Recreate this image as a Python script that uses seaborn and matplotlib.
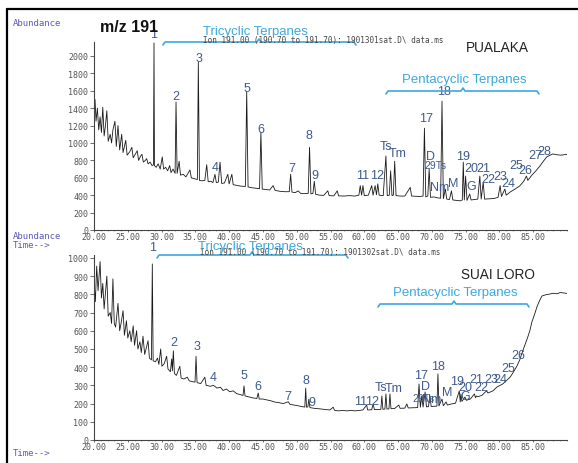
import numpy as np
import pandas as pd
import seaborn as sns
import matplotlib.pyplot as plt
from matplotlib.lines import Line2D

# ---- data (time in min, abundance) ----
top_time = [20.0, 20.15, 20.3, 20.5, 20.7, 20.9, 21.1, 21.3, 21.5, 21.7, 21.9, 22.1, 22.4, 22.6, 22.8,
            23.1, 23.3, 23.55, 23.8, 24.1, 24.3, 24.7, 24.9, 25.3, 25.6, 25.8, 26.1, 26.4, 26.6, 26.9,
            27.1, 27.3, 27.6, 27.8, 28.0, 28.3, 28.6, 28.8, 28.88, 28.95, 29.2, 29.5, 29.8, 30.1, 30.3,
            30.6, 30.9, 31.2, 31.4, 31.7, 32.0, 32.14, 32.3, 32.6, 32.8, 33.2, 33.6, 34.2, 34.4, 34.8,
            35.3, 35.44, 35.6, 36.0, 36.4, 36.68, 36.9, 37.3, 37.6, 37.9, 38.1, 38.4, 38.65, 38.9, 39.3,
            39.8, 40.0, 40.4, 40.6, 41.0, 41.6, 42.4, 42.6, 42.8, 43.4, 44.0, 44.5, 44.7, 44.9, 45.5,
            46.0, 46.5, 46.8, 47.5, 48.2, 48.9, 49.1, 49.3, 49.8, 50.2, 50.6, 51.3, 51.7, 51.9, 52.1,
            52.4, 52.6, 52.8, 53.4, 54.0, 54.6, 54.8, 55.5, 56.0, 56.2, 57.0, 57.8, 58.6, 59.2, 59.4,
            59.6, 59.8, 60.0, 60.6, 61.1, 61.3, 61.6, 61.8, 62.0, 62.2, 62.8, 63.2, 63.4, 63.7, 63.9,
            64.1, 64.3, 64.5, 64.7, 65.3, 66.0, 66.8, 67.0, 67.6, 68.2, 68.7, 68.9, 69.1, 69.4, 69.6,
            69.8, 70.3, 70.8, 71.3, 71.5, 71.7, 72.0, 72.2, 72.6, 72.9, 73.1, 73.7, 74.2, 74.5, 74.65,
            74.8, 75.0, 75.2, 75.6, 75.8, 76.3, 76.8, 77.1, 77.3, 77.6, 77.8, 78.5, 79.2, 79.8, 80.1,
            80.3, 80.8, 81.0, 81.6, 82.3, 83.0, 83.6, 84.0, 84.2, 84.8, 85.4, 86.0, 86.5, 87.0, 87.5,
            87.9, 88.5, 89.0, 89.4, 89.8, 90.0]
top_abund = [1180, 1500, 1250, 1400, 1150, 1300, 1120, 1410, 1080, 1200, 1370, 1020, 1100, 1000, 1150,
             1250, 960, 1200, 920, 1100, 890, 1030, 860, 900, 950, 830, 870, 910, 800, 850,
             870, 780, 800, 820, 760, 780, 740, 750, 2150, 740, 720, 760, 700, 840, 700,
             720, 680, 740, 660, 700, 650, 1470, 650, 790, 630, 640, 610, 690, 600, 590,
             580, 1930, 570, 565, 570, 750, 555, 560, 545, 640, 545, 550, 780, 535, 540,
             640, 530, 640, 520, 515, 505, 500, 1590, 495, 485, 480, 475, 1125, 470, 465,
             460, 510, 455, 445, 440, 440, 640, 435, 430, 450, 420, 418, 420, 950, 415,
             420, 560, 410, 400, 398, 450, 395, 392, 450, 392, 390, 395, 390, 400, 510,
             400, 510, 395, 400, 510, 400, 510, 405, 530, 400, 395, 850, 395, 400, 680,
             395, 400, 790, 395, 390, 390, 490, 390, 388, 385, 390, 1170, 380, 390, 700,
             375, 380, 370, 365, 1480, 360, 470, 355, 350, 450, 345, 340, 335, 345, 780,
             345, 620, 340, 414, 345, 350, 355, 620, 355, 550, 355, 358, 362, 375, 510,
             385, 470, 400, 437, 470, 506, 560, 620, 570, 630, 680, 736, 790, 839, 860,
             874, 865, 860, 862, 870, 865]

bottom_time = [20.0, 20.2, 20.4, 20.6, 20.9, 21.1, 21.3, 21.5, 21.9, 22.1, 22.4, 22.6, 22.8, 23.0, 23.2,
               23.55, 23.8, 24.0, 24.3, 24.5, 24.8, 25.0, 25.3, 25.5, 25.8, 26.0, 26.3, 26.5, 26.8, 27.0,
               27.25, 27.5, 28.0, 28.2, 28.5, 28.63, 28.75, 29.1, 29.4, 29.6, 29.87, 30.05, 30.4, 30.75,
               30.95, 31.3, 31.5, 31.6, 31.74, 31.9, 32.2, 32.7, 32.9, 33.3, 33.8, 34.1, 34.6, 34.95,
               35.1, 35.25, 35.8, 36.4, 36.6, 37.2, 37.7, 38.2, 38.7, 39.1, 39.6, 40.1, 40.6, 41.1,
               41.6, 42.05, 42.2, 42.35, 42.8, 43.4, 44.1, 44.3, 44.45, 45.0, 45.6, 46.2, 46.8, 47.4,
               48.0, 48.75, 49.0, 49.6, 50.2, 50.8, 51.2, 51.33, 51.45, 51.65, 51.8, 51.95, 52.6, 53.2,
               53.7, 54.3, 54.9, 55.4, 55.6, 56.1, 56.8, 57.5, 58.0, 58.6, 59.2, 59.8, 60.35, 60.5,
               61.1, 61.3, 61.5, 62.0, 62.45, 62.6, 62.75, 63.05, 63.2, 63.35, 63.65, 63.8, 63.95, 64.5,
               65.1, 65.3, 66.0, 66.3, 66.5, 67.2, 67.9, 68.1, 68.3, 68.5, 68.7, 69.0, 69.2, 69.5,
               69.7, 69.9, 70.4, 70.75, 70.9, 71.05, 71.5, 71.7, 72.1, 72.3, 72.9, 73.5, 74.06, 74.2,
               74.3, 74.45, 74.9, 75.1, 75.7, 76.3, 76.45, 76.6, 76.8, 77.4, 78.1, 78.3, 79.05, 79.6,
               80.1, 80.5, 81.0, 81.6, 82.1, 82.6, 83.0, 83.3, 83.7, 84.1, 84.5, 84.8, 85.2, 85.6,
               86.0, 86.3, 86.9, 87.5, 88.0, 88.5, 89.0, 89.4, 90.0]
bottom_abund = [870, 760, 955, 820, 980, 780, 860, 720, 900, 680, 700, 640, 885, 640, 620,
                750, 600, 640, 710, 575, 655, 560, 600, 540, 627, 520, 600, 500, 540, 480,
                570, 470, 545, 450, 440, 967, 435, 430, 450, 415, 500, 405, 420, 460,
                390, 375, 445, 380, 490, 365, 355, 405, 340, 335, 345, 325, 320, 318,
                460, 315, 310, 345, 300, 295, 300, 285, 290, 272, 280, 265, 270, 255,
                250, 245, 297, 242, 238, 232, 228, 258, 225, 225, 220, 215, 208, 205,
                200, 210, 196, 192, 188, 183, 181, 285, 180, 182, 225, 178, 174, 172,
                170, 167, 165, 180, 163, 160, 162, 160, 163, 160, 162, 165, 192, 165,
                166, 198, 167, 168, 168, 242, 169, 170, 253, 170, 171, 253, 172, 173,
                192, 174, 175, 198, 176, 177, 178, 308, 180, 242, 181, 264, 182, 183,
                242, 184, 185, 186, 363, 187, 225, 188, 209, 192, 198, 202, 270, 209,
                253, 212, 236, 218, 225, 253, 232, 242, 238, 245, 270, 258, 270, 290,
                300, 308, 325, 346, 375, 407, 440, 473, 515, 555, 600, 648, 690, 736,
                770, 791, 798, 802, 806, 803, 810, 808, 805]

# peak labels: text, time, abundance
top_labels = ['1', '2', '3', '4', '5', '6', '7', '8', '9', '11', '12', 'Ts', 'Tm', '17', '18', 'D',
              'Nm', 'M', '19', '20', '21', 'G', '22', '23', '24', '25', '26', '27', '28']
top_label_t = [28.88, 32.14, 35.54, 37.9, 42.64, 44.71, 49.26, 51.86, 52.7, 59.7, 61.84, 63.17, 64.95,
               69.13, 71.8, 69.83, 71.2, 73.09, 74.57, 75.9, 77.61, 75.75, 78.35, 80.1, 81.3, 82.56,
               83.79, 85.27, 86.6]
top_label_a = [2253, 1540, 1977, 724, 1632, 1161, 713, 1092, 632, 632, 632, 969, 885,
               1284, 1601, 847, 490, 540, 847, 709, 709, 502, 586, 624, 540, 747,
               693, 862, 912]

bottom_labels = ['1', '2', '3', '4', '5', '6', '7', '8', '9', '11', '12', 'Ts', 'Tm', '17', '18', 'D',
                 'Nm', 'M', '19', '20', '21', '22', 'G', '23', '24', '25', '26']
bottom_label_t = [28.63, 31.84, 35.29, 37.57, 42.24, 44.23, 48.67, 51.33, 52.22, 59.41, 61.19, 62.47,
                  64.29, 68.35, 70.95, 68.99, 70.02, 72.2, 73.68, 74.9, 76.64, 77.38, 74.9, 78.86,
                  80.19, 81.31, 82.79]
bottom_label_a = [1059, 540, 518, 348, 357, 298, 243, 330, 210, 216, 216, 289,
                  284, 357, 405, 295, 225, 262, 326, 293, 335, 289, 243, 335,
                  335, 394, 467]

# 29Ts (small) label positions
ts29_t = [70.47, 68.69]
ts29_a = [747, 233]

x_ticks = list(range(20, 90, 5))
top_y_ticks = list(range(0, 2001, 200))
bottom_y_ticks = list(range(0, 1001, 100))

sns.set_theme(style='white')
plt.rcParams['font.family'] = ['Liberation Sans', 'DejaVu Sans']

W, H = 578, 464
fig = plt.figure(figsize=(W / 100, H / 100), dpi=100)


def px(x, y):
    return x / W, 1 - y / H


LABEL_BLUE = '#3f5a8c'
BRACKET_BLUE = '#3aa9e0'
AXIS_BLUE = '#5a5ab4'
MONO = 'DejaVu Sans Mono'


def draw_panel(ax, t, a, ymax, yticks, labels, lt, la, ts29):
    df = pd.DataFrame({'time': t, 'abundance': a})
    sns.lineplot(data=df, x='time', y='abundance', sort=False, estimator=None,
                 color='#1a1a1a', lw=0.6, ax=ax)
    ax.set_xlim(20, 90)
    ax.set_ylim(0, ymax)
    ax.set_xlabel('')
    ax.set_ylabel('')
    ax.set_xticks(x_ticks)
    ax.set_xticklabels(['%.2f' % v for v in x_ticks], family=MONO, fontsize=6, color='#555555')
    ax.set_xticks(range(20, 91), minor=True)
    ax.set_yticks(yticks)
    ax.set_yticklabels([str(v) for v in yticks], family=MONO, fontsize=6, color='#555555')
    ax.tick_params(axis='y', which='major', direction='out', length=3, width=0.6,
                   color='#555555', pad=1, left=True)
    ax.tick_params(axis='x', which='major', direction='out', length=1.5, width=0.6,
                   color='#555555', pad=0, bottom=True)
    ax.tick_params(axis='x', which='minor', direction='out', length=1, width=0.5,
                   color='#777777', bottom=True)
    for side in ['top', 'right']:
        ax.spines[side].set_visible(False)
    for side in ['left', 'bottom']:
        ax.spines[side].set_color('#444444')
        ax.spines[side].set_linewidth(0.8)
    ax.patch.set_alpha(0)
    for lab, x, y in zip(labels, lt, la):
        ax.text(x, y, lab, ha='center', va='center', fontsize=9, color=LABEL_BLUE, clip_on=False)
    ax.text(ts29[0], ts29[1], '29Ts', ha='center', va='center', fontsize=7.5,
            color=LABEL_BLUE, clip_on=False)


ax1 = fig.add_axes([94 / W, 1 - 231 / H, 473 / W, 188 / H])
ax2 = fig.add_axes([94 / W, 1 - 441 / H, 473 / W, 185 / H])
draw_panel(ax1, top_time, top_abund, 2160, top_y_ticks, top_labels, top_label_t, top_label_a,
           (ts29_t[0], ts29_a[0]))
draw_panel(ax2, bottom_time, bottom_abund, 1016, bottom_y_ticks, bottom_labels, bottom_label_t,
           bottom_label_a, (ts29_t[1], ts29_a[1]))


def bracket(x0, x1, xm, y):
    xs = [x0, x0 + 2, xm - 2, xm, xm + 2, x1 - 2, x1]
    ys = [y + 3, y, y, y - 3, y, y, y + 3]
    fx = [v / W for v in xs]
    fy = [1 - v / H for v in ys]
    fig.add_artist(Line2D(fx, fy, color=BRACKET_BLUE, lw=1.2, transform=fig.transFigure))


def ftext(x, y, s, **kw):
    fx, fy = px(x, y)
    fig.text(fx, fy, s, **kw)


# header texts
ftext(203, 41, 'Ion 191.00 (190.70 to 191.70): 1901301sat.D\\ data.ms', family=MONO,
      fontsize=5.5, color='#444444', va='center', ha='left')
ftext(200, 252.5, 'Ion 191.00 (190.70 to 191.70): 1901302sat.D\\ data.ms', family=MONO,
      fontsize=5.5, color='#444444', va='center', ha='left')

ftext(255, 32, 'Tricyclic Terpanes', fontsize=9.5, color=BRACKET_BLUE, ha='center', va='center')
bracket(163, 356, 259, 43)
ftext(250, 247, 'Tricyclic Terpanes', fontsize=9.5, color=BRACKET_BLUE, ha='center', va='center')
bracket(157, 348, 252, 256)

ftext(464, 80, 'Pentacyclic Terpanes', fontsize=9.5, color=BRACKET_BLUE, ha='center', va='center')
bracket(386, 539, 463, 92)
ftext(455, 293, 'Pentacyclic Terpanes', fontsize=9.5, color=BRACKET_BLUE, ha='center', va='center')
bracket(378, 529, 454, 305)

ftext(497, 48, 'PUALAKA', fontsize=9.8, color='#222222', ha='center', va='center')
ftext(498, 275, 'SUAI LORO', fontsize=9.8, color='#222222', ha='center', va='center')
ftext(100, 27, 'm/z 191', fontsize=11.5, fontweight='bold', color='#111111', ha='left', va='center')

for y in (24, 237):
    ftext(13, y, 'Abundance', family=MONO, fontsize=6.5, color=AXIS_BLUE, ha='left', va='center')
for y in (246, 454):
    ftext(13, y, 'Time-->', family=MONO, fontsize=6.5, color=AXIS_BLUE, ha='left', va='center')

# outer frame (top and left edges)
fig.add_artist(Line2D([7 / W, 1.0], [1 - 10 / H, 1 - 10 / H], color='black', lw=1.6,
                      transform=fig.transFigure))
fig.add_artist(Line2D([7 / W, 7 / W], [0.0, 1 - 10 / H], color='black', lw=1.6,
                      transform=fig.transFigure))

fig.savefig('out.png', dpi=100)
